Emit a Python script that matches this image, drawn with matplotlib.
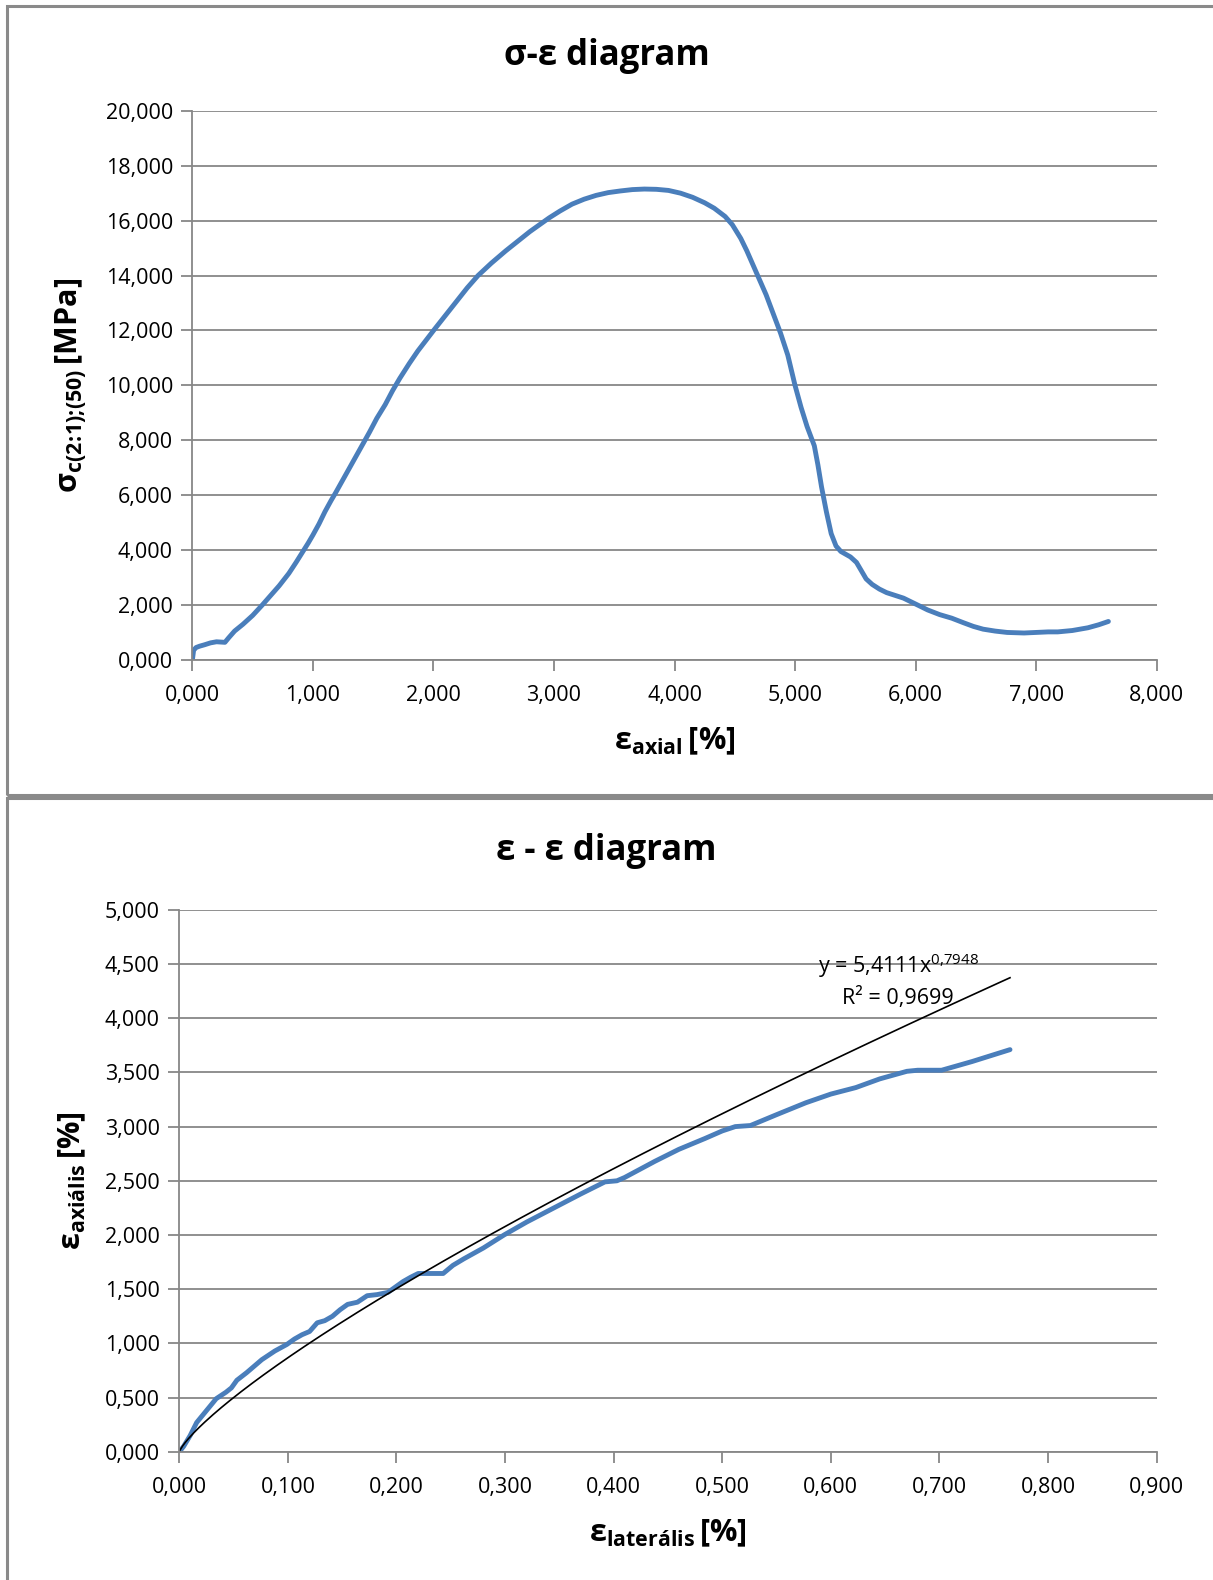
import matplotlib
matplotlib.use("Agg")
import matplotlib.pyplot as plt
import numpy as np
from matplotlib.patches import Rectangle
from matplotlib.ticker import FuncFormatter, MultipleLocator

plt.rcParams["font.family"] = ["Open Sans", "DejaVu Sans"]
plt.rcParams["mathtext.fontset"] = "custom"
plt.rcParams["mathtext.rm"] = "Open Sans"
plt.rcParams["mathtext.it"] = "Open Sans"
plt.rcParams["mathtext.bf"] = "Open Sans:bold"

# sigma-epsilon curve (strain %, stress MPa)
eps_axial = [0.0, 0.01, 0.03, 0.06, 0.10, 0.15, 0.20, 0.27, 0.30, 0.35, 0.42, 0.50,
             0.58, 0.65, 0.72, 0.80, 0.86, 0.91, 0.96, 1.00, 1.05, 1.10, 1.15,
             1.19, 1.26, 1.33, 1.40, 1.47, 1.53, 1.60, 1.66, 1.72, 1.80, 1.87,
             1.94, 2.01, 2.10, 2.19, 2.28, 2.37, 2.48, 2.60, 2.70, 2.80, 2.88,
             2.96, 3.05, 3.15, 3.25, 3.35, 3.45, 3.55, 3.65, 3.75, 3.85, 3.95,
             4.05, 4.15, 4.25, 4.33, 4.42, 4.48, 4.55, 4.60, 4.65, 4.70, 4.76,
             4.82, 4.88, 4.94, 5.00, 5.05, 5.10, 5.16, 5.19, 5.22, 5.26, 5.30,
             5.34, 5.38, 5.42, 5.46, 5.51, 5.55, 5.59, 5.64, 5.70, 5.76, 5.83,
             5.90, 5.97, 6.04, 6.10, 6.20, 6.30, 6.40, 6.48, 6.56, 6.66, 6.76,
             6.90, 7.00, 7.10, 7.18, 7.30, 7.43, 7.52, 7.60]
sigma = [0.0, 0.35, 0.45, 0.50, 0.55, 0.62, 0.66, 0.64, 0.80, 1.05, 1.30, 1.62,
         2.00, 2.35, 2.70, 3.15, 3.55, 3.90, 4.25, 4.55, 4.95, 5.40, 5.80,
         6.10, 6.65, 7.20, 7.75, 8.30, 8.80, 9.30, 9.80, 10.25, 10.80, 11.25,
         11.65, 12.05, 12.55, 13.05, 13.55, 14.00, 14.45, 14.90, 15.25, 15.60,
         15.85, 16.10, 16.35, 16.60, 16.78, 16.92, 17.02, 17.08, 17.13, 17.15,
         17.14, 17.10, 17.00, 16.85, 16.65, 16.45, 16.15, 15.85, 15.35, 14.90,
         14.40, 13.90, 13.30, 12.60, 11.90, 11.10, 10.00, 9.20, 8.50, 7.80,
         7.10, 6.30, 5.40, 4.60, 4.15, 3.95, 3.85, 3.75, 3.55, 3.25, 2.95,
         2.75, 2.58, 2.45, 2.35, 2.25, 2.10, 1.95, 1.82, 1.65, 1.52, 1.35,
         1.22, 1.12, 1.05, 1.00, 0.98, 1.00, 1.02, 1.02, 1.07, 1.17, 1.28, 1.40]

# epsilon-epsilon curve (lateral %, axial %)
eps_lat = [0.0, 0.004, 0.010, 0.016, 0.025, 0.034, 0.043, 0.048, 0.053, 0.062,
           0.076, 0.088, 0.099, 0.106, 0.113, 0.120, 0.127, 0.134, 0.141, 0.148,
           0.155, 0.164, 0.173, 0.182, 0.192, 0.199, 0.206, 0.213, 0.220, 0.230,
           0.243, 0.252, 0.262, 0.280, 0.299, 0.320, 0.345, 0.370, 0.392, 0.403,
           0.410, 0.438, 0.460, 0.484, 0.500, 0.512, 0.526, 0.550, 0.577, 0.600,
           0.623, 0.645, 0.670, 0.680, 0.702, 0.730, 0.765]
eps_ax = [0.0, 0.05, 0.15, 0.27, 0.38, 0.49, 0.55, 0.59, 0.66, 0.73, 0.85, 0.93,
          0.99, 1.04, 1.08, 1.11, 1.19, 1.21, 1.25, 1.31, 1.36, 1.38, 1.44,
          1.45, 1.47, 1.52, 1.57, 1.61, 1.645, 1.645, 1.645, 1.72, 1.78, 1.88,
          2.00, 2.12, 2.25, 2.38, 2.49, 2.50, 2.53, 2.68, 2.79, 2.89, 2.96,
          3.00, 3.01, 3.11, 3.22, 3.30, 3.36, 3.44, 3.51, 3.52, 3.52, 3.60, 3.71]

# power trendline shown on the chart: y = 5,4111 x^0,7948
fit_a = 5.4111
fit_b = 0.7948

W, H = 1213, 1580
fig = plt.figure(figsize=(W / 100, H / 100), dpi=100)

blue = "#4A7EBB"
grid_c = "#878787"


def comma_fmt(v, pos):
    return f"{v:.3f}".replace(".", ",")


def style_axes(ax):
    ax.spines["top"].set_visible(False)
    ax.spines["right"].set_visible(False)
    for s in ("left", "bottom"):
        ax.spines[s].set_color(grid_c)
        ax.spines[s].set_linewidth(1.3)
    ax.yaxis.grid(True, color=grid_c, linewidth=1.3)
    ax.set_axisbelow(True)
    ax.tick_params(axis="both", length=8, width=1.3, color=grid_c,
                   labelsize=15.5)
    ax.tick_params(axis="x", pad=10)
    ax.tick_params(axis="y", pad=6)
    ax.xaxis.set_major_formatter(FuncFormatter(comma_fmt))
    ax.yaxis.set_major_formatter(FuncFormatter(comma_fmt))


# frames around each chart
fig.add_artist(Rectangle((7 / W, 1 - 795 / H), 1.2, (795 - 6) / H,
                         transform=fig.transFigure, fill=False,
                         edgecolor="#8a8a8a", linewidth=2.2))
fig.add_artist(Rectangle((7 / W, -0.1), 1.2, 1 - 798 / H + 0.1,
                         transform=fig.transFigure, fill=False,
                         edgecolor="#8a8a8a", linewidth=2.2))

# top chart
l1, r1, t1, b1 = 192.4, 1156.6, 110.8, 659.9
ax1 = fig.add_axes([l1 / W, 1 - b1 / H, (r1 - l1) / W, (b1 - t1) / H])
ax1.plot(eps_axial, sigma, color=blue, linewidth=3.5, solid_capstyle="round",
         solid_joinstyle="round")
ax1.set_xlim(0, 8)
ax1.set_ylim(0, 20)
ax1.xaxis.set_major_locator(MultipleLocator(1))
ax1.yaxis.set_major_locator(MultipleLocator(2))
style_axes(ax1)
ax1.set_xlabel(r"$\mathbf{ε_{axial}\,[\%]}$", fontsize=22, labelpad=14)
ax1.set_ylabel(r"$\mathbf{σ_{c(2\!:\!1);\!(50)}\,[MPa]}$", fontsize=22,
               labelpad=12)
fig.text(0.5, 1 - 56 / H, "σ-ε diagram", ha="center", va="center",
         fontsize=25, fontweight="bold")

# bottom chart
l2, r2, t2, b2 = 179.3, 1156.6, 909.8, 1451.8
ax2 = fig.add_axes([l2 / W, 1 - b2 / H, (r2 - l2) / W, (b2 - t2) / H])
ax2.plot(eps_lat, eps_ax, color=blue, linewidth=3.5, solid_capstyle="round",
         solid_joinstyle="round")
xf = np.linspace(0.0005, max(eps_lat), 300)
ax2.plot(xf, fit_a * xf ** fit_b, color="black", linewidth=1.2)
ax2.set_xlim(0, 0.9)
ax2.set_ylim(0, 5)
ax2.xaxis.set_major_locator(MultipleLocator(0.1))
ax2.yaxis.set_major_locator(MultipleLocator(0.5))
style_axes(ax2)
ax2.set_xlabel(r"$\mathbf{ε_{laterális}\,[\%]}$", fontsize=22, labelpad=14)
ax2.set_ylabel(r"$\mathbf{ε_{axiális}\,[\%]}$", fontsize=22, labelpad=12)
fig.text(0.5, 1 - 851 / H, "ε - ε diagram", ha="center", va="center",
         fontsize=25, fontweight="bold")
ax2.text(0.662, 4.48, r"y = 5,4111x$^{0{,}7948}$", ha="center", va="center",
         fontsize=15.5)
ax2.text(0.662, 4.19, "R² = 0,9699", ha="center", va="center", fontsize=15.5)

fig.savefig("out.png", dpi=100)
